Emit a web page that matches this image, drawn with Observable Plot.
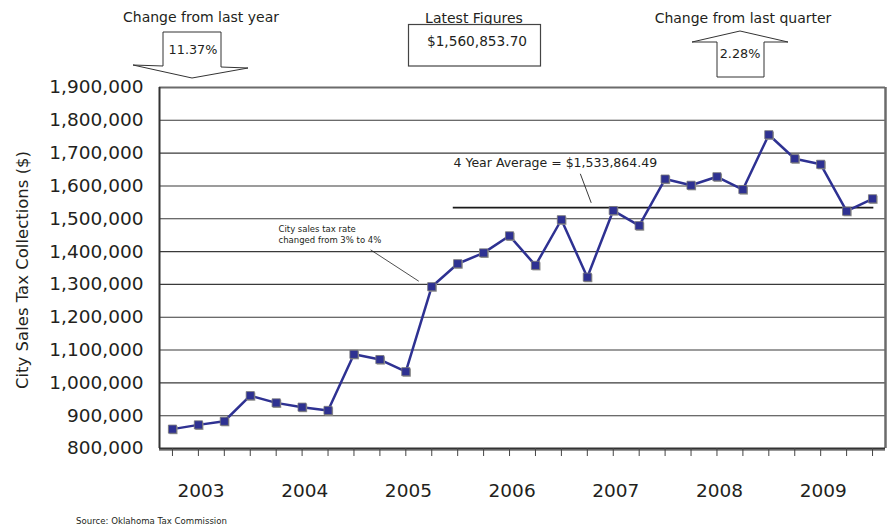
<!DOCTYPE html>
<html>
<head>
<meta charset="utf-8">
<script src="https://cdn.jsdelivr.net/npm/d3@7"></script>
<script src="https://cdn.jsdelivr.net/npm/@observablehq/plot@0.6"></script>
<style>
  html, body { margin: 0; padding: 0; background: #fff; }
  svg { font-family: "DejaVu Sans", sans-serif; }
</style>
</head>
<body>
<div id="chart"></div>
<script>
// Quarterly city sales tax collections ($), 2003 - 2009
const collections = [
  859000, 872000, 883000, 961000, 939000, 926000, 916000,
  1087000, 1071000, 1034000, 1293000, 1363000, 1396000, 1448000,
  1358000, 1497000, 1322000, 1525000, 1479000, 1621000, 1602000,
  1628000, 1589000, 1756000, 1683000, 1666000, 1523000, 1560854
];
const yearLabels = ["2003", "2004", "2005", "2006", "2007", "2008", "2009"];
const yTicks = [800000, 900000, 1000000, 1100000, 1200000, 1300000, 1400000,
                1500000, 1600000, 1700000, 1800000, 1900000];
const fourYearAverage = 1533864.49;
const changeYear = "11.37%";
const changeQuarter = "2.28%";
const latestFigure = "$1,560,853.70";

const data = collections.map((v, i) => ({i, v}));
const years = yearLabels.map((label, k) => ({label, i: 4 * k + 1.1}));
const quarterTicks = d3.range(collections.length);

const navy = "#2e3192";

const chart = Plot.plot({
  width: 887,
  height: 529,
  marginLeft: 159,
  marginRight: 2,
  marginTop: 87,
  marginBottom: 81,
  style: {fontFamily: "DejaVu Sans, sans-serif", background: "#fff", color: "#231f20"},
  x: {domain: [-0.5, 27.5]},
  y: {domain: [800000, 1900000]},
  marks: [
    // grid lines
    Plot.ruleY(yTicks.slice(1, -1), {stroke: "#3a3a3a", strokeWidth: 1.1}),
    // frame: top & right grey, left & bottom dark
    Plot.ruleY([1900000], {stroke: "#6b6b6b", strokeWidth: 2}),
    Plot.ruleX([27.5], {stroke: "#6b6b6b", strokeWidth: 2.5}),
    Plot.ruleX([-0.5], {stroke: "#333", strokeWidth: 2}),
    Plot.ruleY([800000], {stroke: "#999", strokeWidth: 2, dy: 1.5}),
    Plot.ruleY([800000], {stroke: "#333", strokeWidth: 2}),
    Plot.axisY({ticks: yTicks, tickSize: 0, tickPadding: 16, tickFormat: d3.format(","),
      fontSize: 18.5, label: null}),
    Plot.axisX({ticks: quarterTicks, tickSize: 8, tickFormat: () => "", label: null,
      stroke: "#444"}),
    // year labels
    Plot.text(years, {x: "i", text: "label", frameAnchor: "bottom", dy: 48,
      fontSize: 18.5, fill: "#231f20"}),
    // 4-year average
    Plot.ruleY([fourYearAverage], {x1: 10.83, x2: 27.05, stroke: "#1a1a1a", strokeWidth: 1.6}),
    Plot.text(["4 Year Average = $1,533,864.49"], {x: 10.84, y: 1669300, textAnchor: "start",
      fontSize: 12.5, fill: "#231f20"}),
    Plot.link([0], {x1: 15.73, y1: 1637000, x2: 16.15, y2: 1548600, stroke: "#222", strokeWidth: 0.9}),
    // tax rate note
    Plot.text(["City sales tax rate\nchanged from 3% to 4%"], {x: 4.09, y: 1453000, textAnchor: "start",
      fontSize: 8.5, lineHeight: 1.3, fill: "#231f20"}),
    Plot.link([0], {x1: 7.64, y1: 1405400, x2: 9.5, y2: 1309700, stroke: "#222", strokeWidth: 0.8}),
    // series
    Plot.line(data, {x: "i", y: "v", stroke: navy, strokeWidth: 2.5}),
    Plot.dot(data, {x: "i", y: "v", symbol: "square", r: 4.6, fill: "#999", dx: 1, dy: 1}),
    Plot.dot(data, {x: "i", y: "v", symbol: "square", r: 4.6, fill: navy, stroke: "#777", strokeWidth: 0.8})
  ]
});

const svg = d3.select(chart);
const txt = "#231f20";

// Y axis title
svg.append("text")
  .attr("transform", "translate(23,270) rotate(-90)")
  .attr("text-anchor", "middle").attr("dominant-baseline", "middle")
  .attr("font-size", 16.5).attr("fill", txt)
  .text("City Sales Tax Collections ($)");

// Change from last year (down arrow)
svg.append("text").attr("x", 201).attr("y", 22).attr("text-anchor", "middle")
  .attr("font-size", 14).attr("fill", txt).text("Change from last year");
svg.append("path")
  .attr("d", "M163,32 L221,32 L221,67 L248,68 L192,78 L133,65 L163,66 Z")
  .attr("fill", "#fff").attr("stroke", "#333").attr("stroke-width", 1);
svg.append("text").attr("x", 193).attr("y", 54).attr("text-anchor", "middle")
  .attr("font-size", 12.8).attr("fill", txt).text(changeYear);

// Latest figures box
svg.append("text").attr("x", 474).attr("y", 23).attr("text-anchor", "middle")
  .attr("font-size", 14).attr("fill", txt).text("Latest Figures");
svg.append("rect").attr("x", 408.5).attr("y", 24.5).attr("width", 132).attr("height", 41.5)
  .attr("fill", "#fff").attr("stroke", "#444").attr("stroke-width", 1.2);
svg.append("text").attr("x", 477).attr("y", 46).attr("text-anchor", "middle")
  .attr("font-size", 13.7).attr("fill", txt).text(latestFigure);

// Change from last quarter (up arrow)
svg.append("text").attr("x", 743).attr("y", 23).attr("text-anchor", "middle")
  .attr("font-size", 14).attr("fill", txt).text("Change from last quarter");
svg.append("path")
  .attr("d", "M740,31 L788,42 L764,42 L764,77 L717,77 L717,42 L692,42 Z")
  .attr("fill", "#fff").attr("stroke", "#333").attr("stroke-width", 1);
svg.append("text").attr("x", 740).attr("y", 58).attr("text-anchor", "middle")
  .attr("font-size", 12.8).attr("fill", txt).text(changeQuarter);

// Source
svg.append("text").attr("x", 76).attr("y", 524).attr("text-anchor", "start")
  .attr("font-size", 8.6).attr("fill", txt).text("Source: Oklahoma Tax Commission");

document.getElementById("chart").appendChild(chart);
</script>
</body>
</html>
